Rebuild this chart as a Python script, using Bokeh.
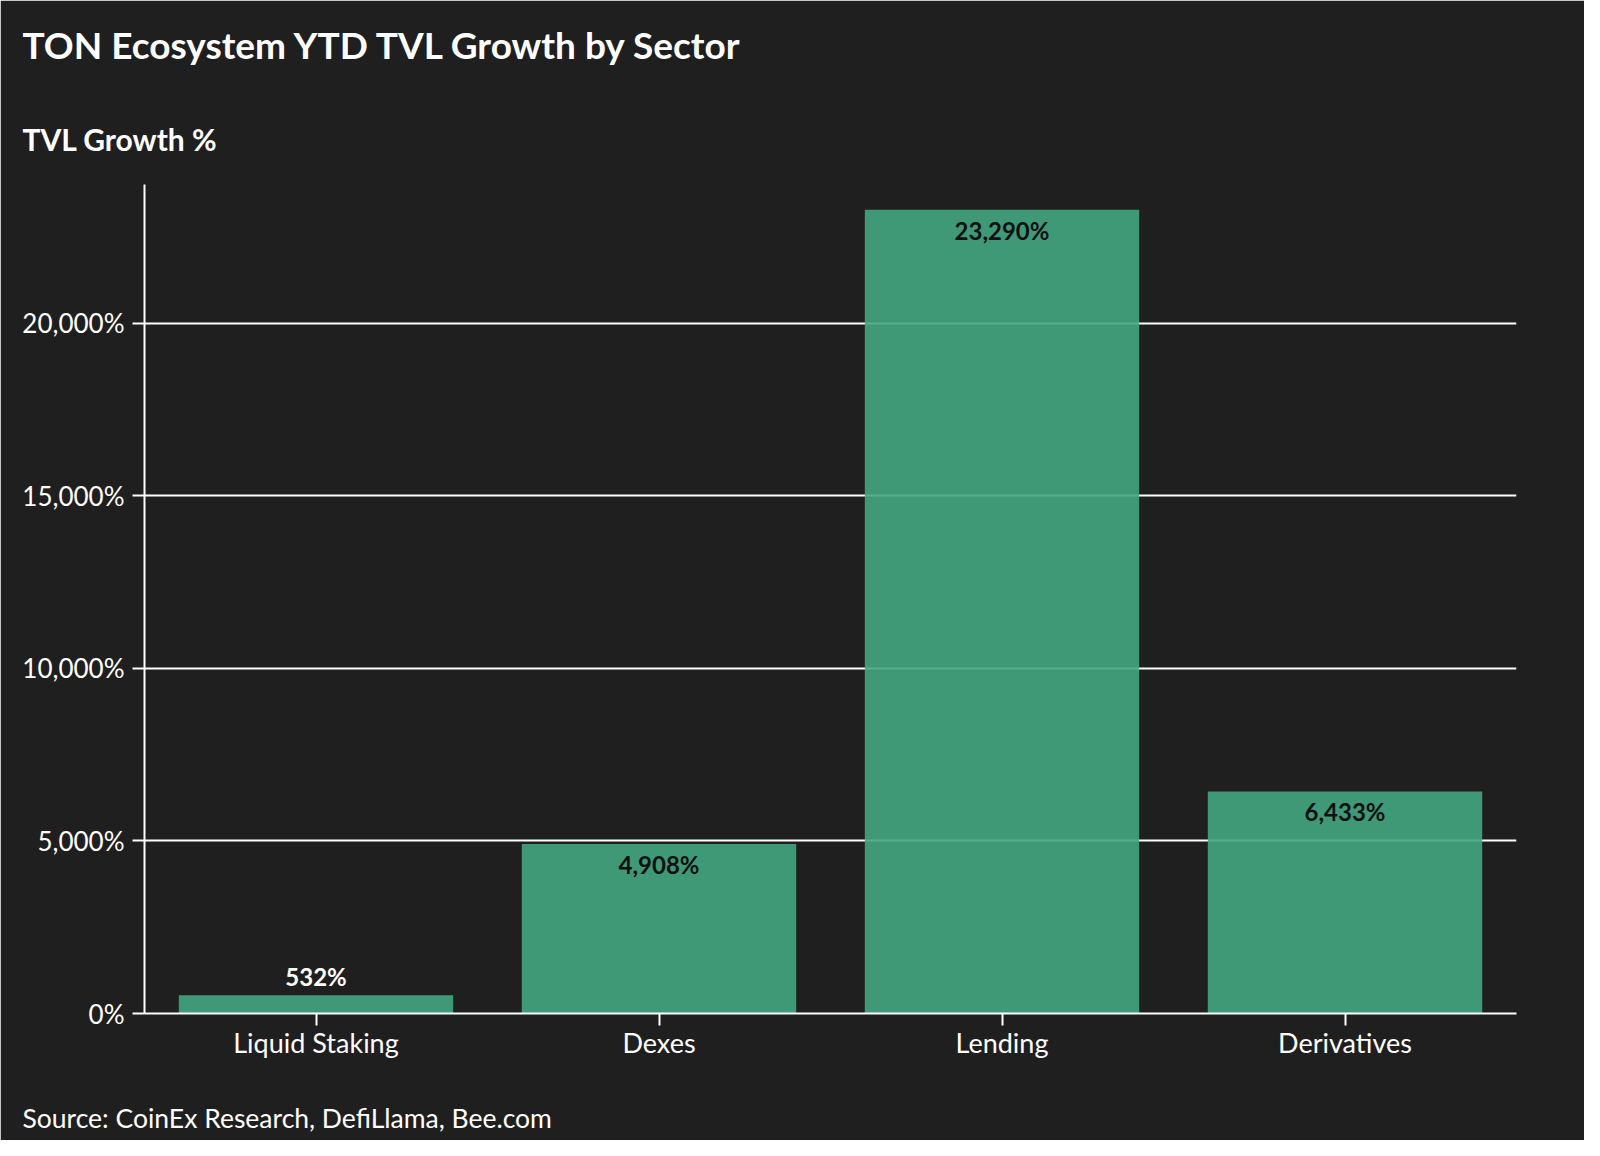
from bokeh.plotting import figure
from bokeh.models import FactorRange, Range1d, FixedTicker, ColumnDataSource, Title
from bokeh.core.properties import value
from bokeh.embed import file_html
from bokeh.resources import INLINE

categories = ["Liquid Staking", "Dexes", "Lending", "Derivatives"]
growth = [532, 4908, 23290, 6433]
value_labels = ["532%", "4,908%", "23,290%", "6,433%"]
y_ticks = [0, 5000, 10000, 15000, 20000]
y_tick_labels = ["0%", "5,000%", "10,000%", "15,000%", "20,000%"]

FONT = "Lato"
BG = "#1f1f1f"
BAR = "#44a67f"

W, H = 1584, 1140
LEFT, RIGHT, TOP, BOTTOM = 144, 68, 184, 127
p = figure(width=W, height=H, x_range=FactorRange(*categories, range_padding=0),
           y_range=Range1d(0, 24020), output_backend="svg", toolbar_location=None,
           min_border_left=LEFT, min_border_right=RIGHT, min_border_top=TOP, min_border_bottom=BOTTOM)
p.background_fill_color = BG
p.border_fill_color = BG
p.outline_line_color = BG
p.outline_line_width = 1

p.vbar(x=categories, top=growth, width=0.8, fill_color=BAR, fill_alpha=0.9, line_color=None)

inside = [v > 2000 for v in growth]
src_in = ColumnDataSource(dict(x=[c for c, i in zip(categories, inside) if i],
                               y=[v for v, i in zip(growth, inside) if i],
                               t=[t for t, i in zip(value_labels, inside) if i]))
src_out = ColumnDataSource(dict(x=[c for c, i in zip(categories, inside) if not i],
                                y=[v for v, i in zip(growth, inside) if not i],
                                t=[t for t, i in zip(value_labels, inside) if not i]))
p.text(x="x", y="y", text="t", source=src_in, text_align="center", text_baseline="top",
       y_offset=6, text_color="#111111", text_font=value(FONT), text_font_style="bold",
       text_font_size="24px")
p.text(x="x", y="y", text="t", source=src_out, text_align="center", text_baseline="bottom",
       y_offset=-4, text_color="#ffffff", text_font=value(FONT), text_font_style="bold",
       text_font_size="24px")

p.xgrid.grid_line_color = None
p.ygrid.grid_line_color = "#ffffff"
p.ygrid.grid_line_width = 2
p.ygrid.ticker = FixedTicker(ticks=y_ticks)
p.yaxis.ticker = FixedTicker(ticks=y_ticks)
p.yaxis.major_label_overrides = {t: l for t, l in zip(y_ticks, y_tick_labels)}

for ax in (p.xaxis, p.yaxis):
    ax.axis_line_color = "#ffffff"
    ax.axis_line_width = 2
    ax.major_tick_line_color = "#ffffff"
    ax.major_tick_line_width = 2
    ax.major_tick_out = 12
    ax.major_tick_in = 0
    ax.minor_tick_line_color = None
    ax.major_label_text_color = "#ffffff"
    ax.major_label_text_font = FONT
p.yaxis.major_label_text_font_size = "26px"
p.xaxis.major_label_text_font_size = "27px"
p.yaxis.major_label_standoff = 8
p.xaxis.major_label_standoff = 0


def spacer(size, side):
    p.add_layout(Title(text=" ", text_font_size="1px", standoff=size, text_color=BG), side)


def text_title(text, size, bold, side):
    p.add_layout(Title(text=text, align="left", offset=22 - LEFT, standoff=0,
                       text_font=FONT, text_font_style="bold" if bold else "normal",
                       text_font_size=size, text_color="#ffffff"), side)


# above panels stack outward from the frame
spacer(25, "above")
text_title("TVL Growth %", "30px", True, "above")
spacer(49, "above")
text_title("TON Ecosystem YTD TVL Growth by Sector", "37px", True, "above")
# below panels: axis, spacer, source
spacer(35, "below")
text_title("Source: CoinEx Research, DefiLlama, Bee.com", "26.5px", False, "below")

out = open("out.html", "w")
out.write(file_html(p, INLINE))
out.close()
